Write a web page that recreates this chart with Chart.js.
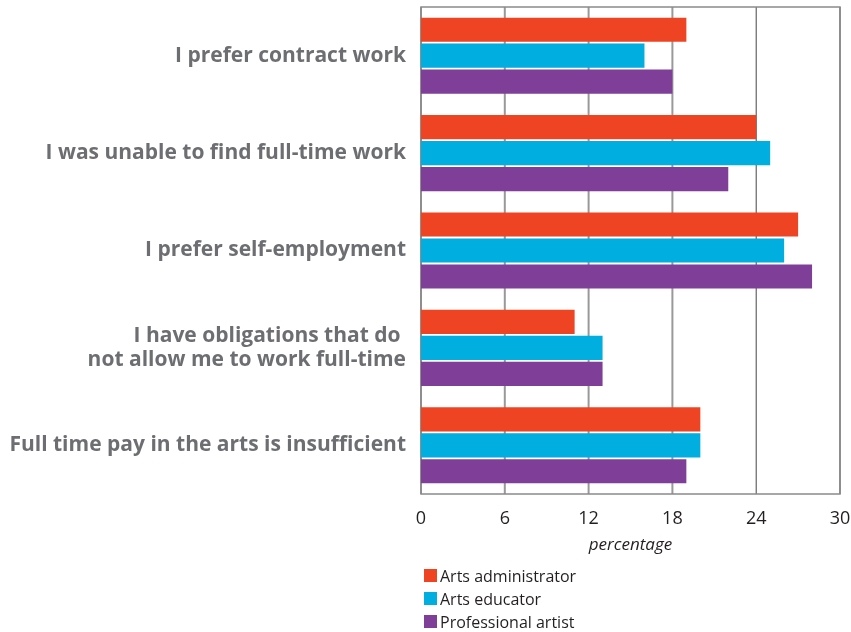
<!DOCTYPE html>
<html lang="en">
<head>
<meta charset="UTF-8" />
<title>Reasons for part-time work</title>
<script src="https://cdn.jsdelivr.net/npm/chart.js"></script>
<style>
    html, body { margin: 0; padding: 0; background: #fff; }
    #wrap { position: relative; width: 851px; height: 632px; }
    #legend {
        position: absolute; left: 424px; top: 564px;
        font-family: "Open Sans", sans-serif; font-size: 16px; color: #231f20;
    }
    #legend div { height: 23px; line-height: 20px; display: flex; align-items: center; }
    #legend span.box { width: 13px; height: 13px; margin-right: 3px; display: inline-block; }
</style>
</head>
<body>
<div id="wrap">
    <canvas id="chart" width="851" height="632"></canvas>
    <div id="legend"></div>
</div>
<script>
    // Survey responses, percent of each group
    const reasons = [
        "I prefer contract work",
        "I was unable to find full-time work",
        "I prefer self-employment",
        ["I have obligations that do ", "not allow me to work full-time"],
        "Full time pay in the arts is insufficient"
    ];
    const groups = ["Arts administrator", "Arts educator", "Professional artist"];
    const adminValues = [19, 24, 27, 11, 20];
    const educatorValues = [16, 25, 26, 13, 20];
    const artistValues = [18, 22, 28, 13, 19];
    const xTicks = [0, 6, 12, 18, 24, 30];
    const colors = ["#ee4423", "#00aedf", "#7f3f98"];

    // vertical grid lines at each tick plus a frame round the plot area
    const gridPlugin = {
        id: "gridFrame",
        beforeDatasetsDraw(chart) {
            const { ctx, chartArea: a, scales } = chart;
            ctx.save();
            xTicks.forEach(v => {
                const x = scales.x.getPixelForValue(v);
                ctx.beginPath();
                ctx.strokeStyle = v === 24 ? "#444" : "#999";
                ctx.lineWidth = v === 24 ? 1 : 2;
                ctx.moveTo(x, a.top);
                ctx.lineTo(x, a.bottom);
                ctx.stroke();
            });
            ctx.strokeStyle = "#8a8a8a";
            ctx.lineWidth = 1.5;
            ctx.strokeRect(a.left, a.top, a.right - a.left, a.bottom - a.top);
            ctx.restore();
        }
    };

    const chart = new Chart(document.getElementById("chart"), {
        type: "bar",
        data: {
            labels: reasons,
            datasets: [adminValues, educatorValues, artistValues].map((vals, i) => ({
                label: groups[i],
                data: vals,
                backgroundColor: colors[i],
                categoryPercentage: 0.8,
                barPercentage: 0.93
            }))
        },
        plugins: [gridPlugin],
        options: {
            indexAxis: "y",
            responsive: false,
            animation: false,
            layout: { padding: { top: 7, right: 11, bottom: 72, left: 0 } },
            plugins: { legend: { display: false }, tooltip: { enabled: false } },
            scales: {
                x: {
                    min: 0, max: 30,
                    afterBuildTicks: (s) => { s.ticks = xTicks.map(v => ({ value: v })); },
                    afterFit: (s) => { s.height = 66; s.paddingLeft = 0; s.paddingRight = 0; },
                    border: { display: false },
                    grid: { display: false },
                    ticks: {
                        padding: 6,
                        color: "#231f20",
                        font: { family: "Open Sans", size: 18 }
                    },
                    title: {
                        display: true,
                        text: "percentage",
                        color: "#231f20",
                        padding: { top: 2, bottom: 5 },
                        font: { family: "Open Sans", size: 17, style: "italic" }
                    }
                },
                y: {
                    afterFit: (s) => { s.width = 421; s.paddingTop = 0; s.paddingBottom = 0; },
                    border: { display: false },
                    grid: { display: false },
                    ticks: {
                        padding: 7,
                        color: "#6d6e71",
                        font: { family: "Open Sans", size: 21, weight: "700", lineHeight: 1.14 }
                    }
                }
            }
        }
    });

    // vertical legend built from the datasets
    const legend = document.getElementById("legend");
    chart.data.datasets.forEach(ds => {
        const row = document.createElement("div");
        row.innerHTML = '<span class="box" style="background:' + ds.backgroundColor + '"></span>' + ds.label;
        legend.appendChild(row);
    });
</script>
</body>
</html>
